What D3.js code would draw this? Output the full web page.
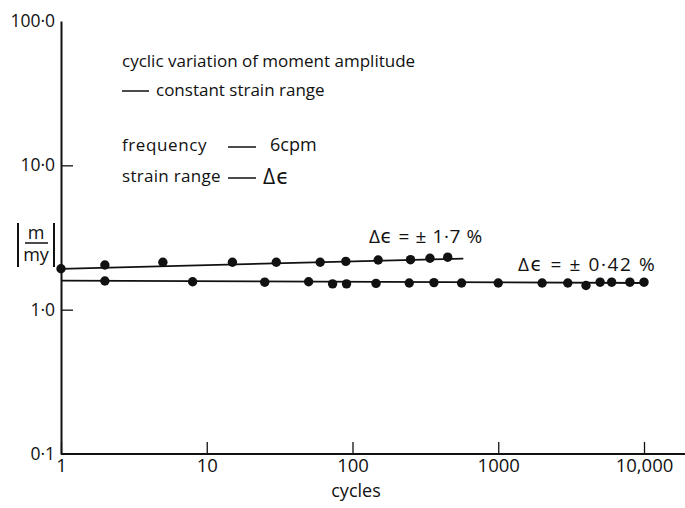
<!DOCTYPE html>
<html>
<head>
<meta charset="utf-8">
<script src="https://cdn.jsdelivr.net/npm/d3@7"></script>
<style>
  body { margin: 0; background: #fff; }
  text { font-family: "Open Sans", "DejaVu Sans", sans-serif; fill: #111; }
</style>
</head>
<body>
<script>
// data

const cyclesHigh = [1, 2, 5, 15, 30, 60, 90, 150, 250, 340, 450];
const ratioHigh = [1.92, 2.04, 2.13, 2.13, 2.13, 2.13, 2.16, 2.21, 2.22, 2.27, 2.31];
const fitHigh = [[1, 1.92], [576, 2.26]];

const cyclesLow = [2, 8, 25, 50, 73, 91, 145, 245, 362, 560, 1000, 2000, 3000, 4000, 5000, 6000, 8000, 10000];
const ratioLow = [1.58, 1.56, 1.55, 1.56, 1.51, 1.51, 1.52, 1.53, 1.54, 1.53, 1.53, 1.53, 1.53, 1.47, 1.55, 1.55, 1.55, 1.55];
const fitLow = [[1, 1.59], [10500, 1.53]];

const xTicks = [1, 10, 100, 1000, 10000];
const xTickLabels = ["1", "10", "100", "1000", "10,000"];
const yTicks = [0.1, 1, 10, 100];
const yTickLabels = ["0·1", "1·0", "10·0", "100·0"];

const notes = [
  "cyclic variation of moment amplitude",
  "constant strain range",
  "frequency",
  "strain range"];

// chart

const w = 685;
const h = 508;

const svg = d3.select("body").append("svg").
attr("width", w).
attr("height", h);

const x = d3.scaleLog().
domain([1, 10000]).
range([61, 644]);
const y = d3.scaleLog().
domain([0.1, 100]).
range([454, 21]);

// axes

const xAxis = d3.axisBottom(x).
tickValues(xTicks).
tickSizeInner(-12).
tickSizeOuter(0).
tickPadding(5).
tickFormat((d, i) => xTickLabels[i]);

const yAxis = d3.axisLeft(y).
tickValues(yTicks).
tickSizeInner(-12).
tickSizeOuter(0).
tickPadding(6).
tickFormat((d, i) => yTickLabels[i]);

const gx = svg.append("g").
attr("transform", "translate(0," + y(0.1) + ")").
call(xAxis);
gx.select(".domain").remove();
gx.append("line").
attr("x1", x(1)).
attr("x2", w).
attr("stroke", "#111").
attr("stroke-width", 2);
gx.selectAll(".tick text").
style("font-size", "18.5px");

const gy = svg.append("g").
attr("transform", "translate(" + x(1) + ",0)").
call(yAxis);
gy.select(".domain").
attr("stroke", "#111").
attr("stroke-width", 2);
gy.selectAll(".tick line").
filter(d => d == 0.1 || d == 100).
remove();
gy.selectAll(".tick text").
style("font-size", "17.5px");

svg.selectAll(".tick line").
attr("stroke", "#111").
attr("stroke-width", 1.3);
svg.selectAll(".tick text").
style("font-family", "'Open Sans', sans-serif").
attr("fill", "#111");

// axis titles

svg.append("text").
attr("x", 356).
attr("y", 497).
attr("text-anchor", "middle").
style("font-size", "18px").
text("cycles");

const yl = svg.append("g");
yl.append("line").attr("x1", 18).attr("x2", 18).attr("y1", 223).attr("y2", 267).
attr("stroke", "#111").attr("stroke-width", 2);
yl.append("line").attr("x1", 54).attr("x2", 54).attr("y1", 223).attr("y2", 267).
attr("stroke", "#111").attr("stroke-width", 2);
yl.append("line").attr("x1", 25).attr("x2", 48).attr("y1", 243).attr("y2", 243).
attr("stroke", "#111").attr("stroke-width", 1.5);
yl.append("text").attr("x", 36).attr("y", 239).attr("text-anchor", "middle").
style("font-size", "18px").text("m");
yl.append("text").attr("x", 36).attr("y", 261).attr("text-anchor", "middle").
style("font-size", "18px").text("my");

// notes

const noteFont = "17px";

svg.append("text").attr("x", 122).attr("y", 67).style("font-size", noteFont).text(notes[0]);
svg.append("line").attr("x1", 122).attr("x2", 149).attr("y1", 91).attr("y2", 91).
attr("stroke", "#111").attr("stroke-width", 1.5);
svg.append("text").attr("x", 156).attr("y", 96).style("font-size", noteFont).text(notes[1]);

svg.append("text").attr("x", 122).attr("y", 151).style("font-size", noteFont).
style("letter-spacing", "0.6px").text(notes[2]);
svg.append("line").attr("x1", 228).attr("x2", 256).attr("y1", 147).attr("y2", 147).
attr("stroke", "#111").attr("stroke-width", 1.5);
svg.append("text").attr("x", 270).attr("y", 151).style("font-size", "18px").text("6cpm");

svg.append("text").attr("x", 122).attr("y", 182).style("font-size", noteFont).
style("letter-spacing", "0.3px").text(notes[3]);
svg.append("line").attr("x1", 228).attr("x2", 256).attr("y1", 178).attr("y2", 178).
attr("stroke", "#111").attr("stroke-width", 1.5);
svg.append("text").attr("x", 263).attr("y", 184).style("font-size", "21px").
style("letter-spacing", "1px").text("Δϵ");

// fitted lines

const line = d3.line().
x(d => x(d[0])).
y(d => y(d[1]));

svg.append("path").
datum(fitHigh).
attr("d", line).
attr("fill", "none").
attr("stroke", "#111").
attr("stroke-width", 1.8);

svg.append("path").
datum(fitLow).
attr("d", line).
attr("fill", "none").
attr("stroke", "#111").
attr("stroke-width", 1.8);

// points

svg.append("g").selectAll("circle").
data(cyclesHigh).
enter().
append("circle").
attr("cx", d => x(d)).
attr("cy", (d, i) => y(ratioHigh[i])).
attr("r", 4.7).
attr("fill", "#111");

svg.append("g").selectAll("circle").
data(cyclesLow).
enter().
append("circle").
attr("cx", d => x(d)).
attr("cy", (d, i) => y(ratioLow[i])).
attr("r", 4.7).
attr("fill", "#111");

// series labels

svg.append("text").
attr("x", 369).
attr("y", 243).
style("font-size", "19px").
style("letter-spacing", "0.6px").
text("Δϵ = ± 1·7 %");

svg.append("text").
attr("x", 518).
attr("y", 271).
style("font-size", "19px").
style("letter-spacing", "1.6px").
text("Δϵ = ± 0·42 %");
</script>
</body>
</html>
